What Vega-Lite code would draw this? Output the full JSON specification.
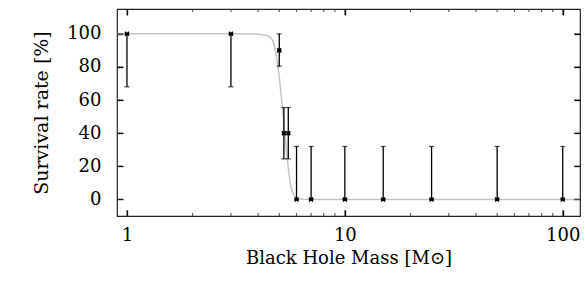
{
  "$schema": "https://vega.github.io/schema/vega-lite/v6.json",
  "autosize": "none",
  "width": 463,
  "height": 207,
  "padding": {"left": 117, "top": 9, "right": 5, "bottom": 72},
  "background": "white",
  "config": {
    "view": {"stroke": "#222", "strokeWidth": 1.2},
    "font": "DejaVu Serif",
    "axis": {
      "domain": false, "grid": false, "ticks": true, "tickColor": "black", "tickOpacity": 1, "tickWidth": 1.3,
      "labelFont": "DejaVu Serif", "labelFontSize": 18, "labelColor": "black",
      "titleFont": "DejaVu Serif", "titleFontSize": 18, "titleFontWeight": "normal", "titleColor": "black"
    }
  },
  "datasets": {
    "pts": [
      {"mass": 1, "rate": 100, "lo": 68, "hi": 100},
      {"mass": 3, "rate": 100, "lo": 68, "hi": 100},
      {"mass": 5, "rate": 90, "lo": 80.5, "hi": 100},
      {"mass": 5.25, "rate": 40, "lo": 24.5, "hi": 55.5},
      {"mass": 5.5, "rate": 40, "lo": 24.5, "hi": 55.5},
      {"mass": 6, "rate": 0, "lo": 0, "hi": 32},
      {"mass": 7, "rate": 0, "lo": 0, "hi": 32},
      {"mass": 10, "rate": 0, "lo": 0, "hi": 32},
      {"mass": 15, "rate": 0, "lo": 0, "hi": 32},
      {"mass": 25, "rate": 0, "lo": 0, "hi": 32},
      {"mass": 50, "rate": 0, "lo": 0, "hi": 32},
      {"mass": 100, "rate": 0, "lo": 0, "hi": 32}
    ],
    "fit": [
      {"mass": 0.9, "rate": 100}, {"mass": 2, "rate": 100}, {"mass": 3, "rate": 100},
      {"mass": 3.8, "rate": 99.9}, {"mass": 4.0, "rate": 99.8}, {"mass": 4.2, "rate": 99.5},
      {"mass": 4.4, "rate": 99}, {"mass": 4.5, "rate": 98.3}, {"mass": 4.6, "rate": 97.3},
      {"mass": 4.7, "rate": 95}, {"mass": 4.8, "rate": 90}, {"mass": 4.9, "rate": 83},
      {"mass": 5.0, "rate": 74}, {"mass": 5.1, "rate": 63}, {"mass": 5.2, "rate": 52},
      {"mass": 5.3, "rate": 40}, {"mass": 5.4, "rate": 29}, {"mass": 5.5, "rate": 19},
      {"mass": 5.6, "rate": 11}, {"mass": 5.7, "rate": 6}, {"mass": 5.8, "rate": 3.2},
      {"mass": 5.9, "rate": 1.8}, {"mass": 6.0, "rate": 1}, {"mass": 6.2, "rate": 0.4},
      {"mass": 6.5, "rate": 0.1}, {"mass": 7, "rate": 0}, {"mass": 10, "rate": 0},
      {"mass": 100, "rate": 0}, {"mass": 120, "rate": 0}
    ],
    "xmaj": [{"mass": 1}, {"mass": 10}, {"mass": 100}],
    "xmin": [{"mass": 2}, {"mass": 3}, {"mass": 4}, {"mass": 5}, {"mass": 6}, {"mass": 7}, {"mass": 8}, {"mass": 9},
             {"mass": 20}, {"mass": 30}, {"mass": 40}, {"mass": 50}, {"mass": 60}, {"mass": 70}, {"mass": 80}, {"mass": 90}],
    "ymaj": [{"rate": 0}, {"rate": 20}, {"rate": 40}, {"rate": 60}, {"rate": 80}, {"rate": 100}]
  },
  "layer": [
    {
      "data": {"name": "fit"},
      "mark": {"type": "line", "color": "#c4c4c4", "strokeWidth": 1.5, "clip": true},
      "encoding": {
        "x": {"field": "mass", "type": "quantitative",
              "scale": {"type": "log", "domain": [0.9, 120], "nice": false},
              "axis": {"orient": "bottom", "title": "Black Hole Mass [M\u2299]",
                       "values": [1, 10, 100], "offset": -6, "tickSize": 6, "ticks": true,
                       "labelPadding": 10, "titlePadding": 5, "labelFlush": false, "labelOverlap": false}},
        "y": {"field": "rate", "type": "quantitative",
              "scale": {"domain": [-10, 115], "nice": false, "zero": false},
              "axis": {"orient": "left", "title": "Survival rate [%]", "values": [0,20,40,60,80,100],
                       "titleFontSize": 19, "offset": -6, "tickSize": 6, "ticks": true,
                       "labelPadding": 16, "titlePadding": 15}}
      }
    },
    {
      "data": {"name": "pts"},
      "mark": {"type": "rule", "color": "black", "strokeWidth": 1.3},
      "encoding": {
        "x": {"field": "mass", "type": "quantitative",
              "axis": {"orient": "top", "title": null, "labels": false, "ticks": true,
                       "values": [1, 10, 100], "offset": -6, "tickSize": 6}},
        "y": {"field": "lo", "type": "quantitative",
              "axis": {"orient": "right", "title": null, "labels": false, "ticks": true, "values": [0,20,40,60,80,100], "offset": -6, "tickSize": 6}},
        "y2": {"field": "hi"}
      }
    },
    {
      "data": {"name": "pts"},
      "mark": {"type": "tick", "orient": "horizontal", "color": "black", "size": 5, "thickness": 1.2},
      "encoding": {
        "x": {"field": "mass", "type": "quantitative", "axis": null},
        "y": {"field": "lo", "type": "quantitative", "axis": null}
      }
    },
    {
      "data": {"name": "pts"},
      "mark": {"type": "tick", "orient": "horizontal", "color": "black", "size": 5, "thickness": 1.2},
      "encoding": {
        "x": {"field": "mass", "type": "quantitative", "axis": null},
        "y": {"field": "hi", "type": "quantitative", "axis": null}
      }
    },
    {
      "data": {"name": "xmaj"},
      "mark": {"type": "tick", "orient": "vertical", "color": "#222", "size": 12, "thickness": 1.2, "clip": true},
      "encoding": {
        "x": {"field": "mass", "type": "quantitative", "axis": null},
        "y": {"datum": -10, "type": "quantitative", "axis": null}
      }
    },
    {
      "data": {"name": "xmaj"},
      "mark": {"type": "tick", "orient": "vertical", "color": "#222", "size": 12, "thickness": 1.2, "clip": true},
      "encoding": {
        "x": {"field": "mass", "type": "quantitative", "axis": null},
        "y": {"datum": 115, "type": "quantitative", "axis": null}
      }
    },
    {
      "data": {"name": "xmin"},
      "mark": {"type": "tick", "orient": "vertical", "color": "#222", "size": 6, "thickness": 1.2, "clip": true},
      "encoding": {
        "x": {"field": "mass", "type": "quantitative", "axis": null},
        "y": {"datum": -10, "type": "quantitative", "axis": null}
      }
    },
    {
      "data": {"name": "xmin"},
      "mark": {"type": "tick", "orient": "vertical", "color": "#222", "size": 6, "thickness": 1.2, "clip": true},
      "encoding": {
        "x": {"field": "mass", "type": "quantitative", "axis": null},
        "y": {"datum": 115, "type": "quantitative", "axis": null}
      }
    },
    {
      "data": {"name": "ymaj"},
      "mark": {"type": "tick", "orient": "horizontal", "color": "#222", "size": 12, "thickness": 1.2, "clip": true},
      "encoding": {
        "x": {"datum": 0.9, "type": "quantitative", "axis": null},
        "y": {"field": "rate", "type": "quantitative", "axis": null}
      }
    },
    {
      "data": {"name": "ymaj"},
      "mark": {"type": "tick", "orient": "horizontal", "color": "#222", "size": 12, "thickness": 1.2, "clip": true},
      "encoding": {
        "x": {"datum": 120, "type": "quantitative", "axis": null},
        "y": {"field": "rate", "type": "quantitative", "axis": null}
      }
    },
    {
      "data": {"name": "pts"},
      "mark": {"type": "point", "shape": "M-1,-1L1,1M1,-1L-1,1M-1,0L1,0", "size": 16, "stroke": "black", "strokeWidth": 1.5, "filled": false, "opacity": 1},
      "encoding": {
        "x": {"field": "mass", "type": "quantitative", "axis": null},
        "y": {"field": "rate", "type": "quantitative", "axis": null}
      }
    }
  ],
  "resolve": {"axis": {"x": "independent", "y": "independent"}}
}
